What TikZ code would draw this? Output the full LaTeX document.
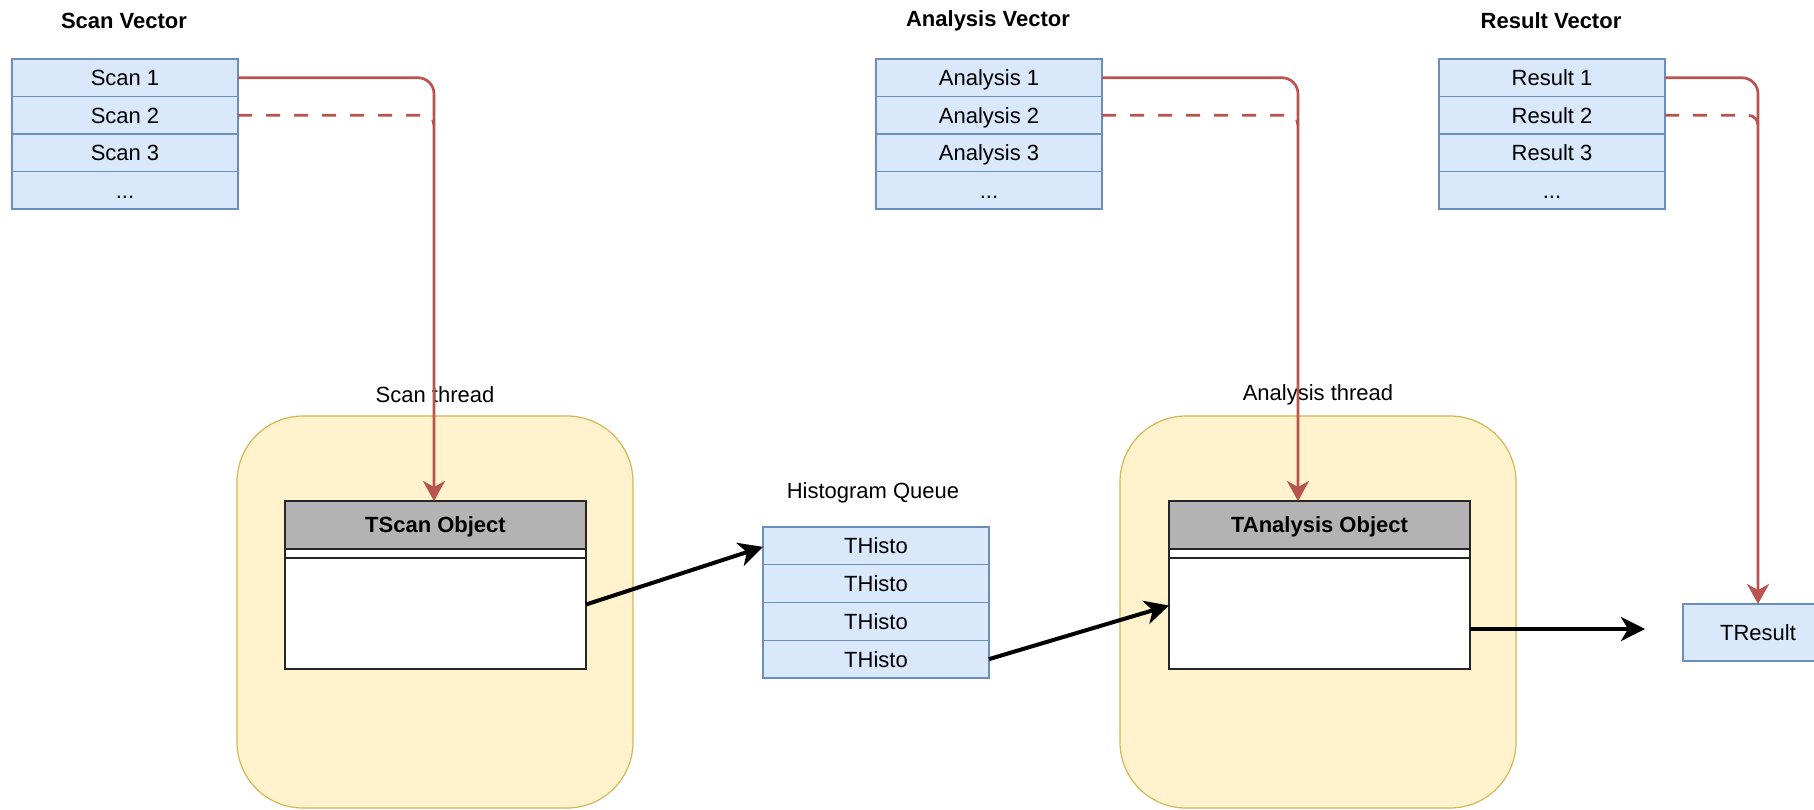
\documentclass[tikz,border=0pt]{standalone}
\usepackage{fontspec}
\setmainfont{Liberation Sans}
\usetikzlibrary{arrows.meta,calc}
\definecolor{cellfill}{HTML}{DAE8FC}
\definecolor{cellline}{HTML}{6C8EBF}
\definecolor{redline}{HTML}{B85450}
\definecolor{thfill}{HTML}{FFF2CC}
\definecolor{thline}{HTML}{D6B656}
\definecolor{hdrfill}{HTML}{B3B3B3}
\begin{document}
\begin{tikzpicture}[x=0.5pt,y=-0.5pt,
  font=\fontsize{11}{13}\selectfont,
  cell/.style={draw=cellline, fill=cellfill, line width=0.7pt, minimum width=113pt,
    minimum height=18.75pt, inner sep=0pt, outer sep=0pt, anchor=north west,
    text height=7.9pt, text depth=0pt},
  hcell/.style={cell, minimum height=18.875pt},
  title/.style={font=\fontsize{11}{13}\selectfont\bfseries},
  thread/.style={draw=thline, fill=thfill, line width=0.6pt, rounded corners=33pt,
    minimum width=198pt, minimum height=196pt, inner sep=0pt, outer sep=0pt, anchor=north west},
  objhdr/.style={draw=black!85, fill=hdrfill, line width=0.7pt, minimum width=150.5pt,
    minimum height=24pt, inner sep=0pt, outer sep=0pt, anchor=north west,
    text height=7.9pt, text depth=0pt, font=\fontsize{11}{13}\selectfont\bfseries},
  objband/.style={draw=black!85, fill=white, line width=0.7pt, minimum width=150.5pt,
    minimum height=4.5pt, inner sep=0pt, outer sep=0pt, anchor=north west},
  objbody/.style={draw=black!85, fill=white, line width=0.7pt, minimum width=150.5pt,
    minimum height=55.5pt, inner sep=0pt, outer sep=0pt, anchor=north west},
  redarrow/.style={draw=redline, line width=1.35pt, rounded corners=8pt,
    -{Stealth[length=10pt, width=11pt, inset=3pt]}},
  reddash/.style={draw=redline, line width=1.35pt, dash pattern=on 7pt off 7pt},
  blackarrow/.style={draw=black, line width=2pt,
    -{Stealth[length=12pt, width=12pt, inset=3.5pt]}}
]
\useasboundingbox (0,0) rectangle (1814,809);

% titles
\node[title] (tsv) at (124,21) {Scan Vector};
\node[title] (tav) at (988,21) {Analysis Vector};
\node[title] (trv) at (1551,21) {Result Vector};

% scan vector
\node[cell] (s1) at (12,59) {Scan 1};
\node[cell] (s2) at (12,96.5) {Scan 2};
\node[cell] (s3) at (12,134) {Scan 3};
\node[cell] (s4) at (12,171.5) {...};

% analysis vector
\node[cell] (a1) at (876,59) {Analysis 1};
\node[cell] (a2) at (876,96.5) {Analysis 2};
\node[cell] (a3) at (876,134) {Analysis 3};
\node[cell] (a4) at (876,171.5) {...};

% result vector
\node[cell] (r1) at (1439,59) {Result 1};
\node[cell] (r2) at (1439,96.5) {Result 2};
\node[cell] (r3) at (1439,134) {Result 3};
\node[cell] (r4) at (1439,171.5) {...};

% threads
\node[thread] (sth) at (237,416) {};
\node[thread] (ath) at (1120,416) {};
\node (sthl) at (435,395) {Scan thread};
\node (athl) at (1318,395) {Analysis thread};

% objects
\node[objhdr] (tsh) at (285,501) {TScan Object};
\node[objband] (tsm) at (285,549) {};
\node[objbody] (tsb) at (285,558) {};
\node[objhdr] (tah) at (1169,501) {TAnalysis Object};
\node[objband] (tam) at (1169,549) {};
\node[objbody] (tab) at (1169,558) {};

% histogram queue
\node (hql) at (873,493) {Histogram Queue};
\node[hcell] (h1) at (763,527) {THisto};
\node[hcell] (h2) at (763,564.75) {THisto};
\node[hcell] (h3) at (763,602.5) {THisto};
\node[hcell] (h4) at (763,640.25) {THisto};

% result
\node[cell, minimum width=75pt, minimum height=28.5pt, anchor=center] (tres) at (1758,632.5) {TResult};

% red connectors
\coordinate (sx) at (434,0);
\coordinate (ax) at (1298,0);
\coordinate (rx) at (1758,0);
\coordinate (out) at (1645,629);

\draw[reddash] (s2.east) -- ($(s2.east -| sx)+(-10,0)$) to[out=0,in=90] ($(s2.east -| sx)+(0,10)$);
\draw[reddash] (a2.east) -- ($(a2.east -| ax)+(-10,0)$) to[out=0,in=90] ($(a2.east -| ax)+(0,10)$);
\draw[reddash] (r2.east) -- ($(r2.east -| rx)+(-10,0)$) to[out=0,in=90] ($(r2.east -| rx)+(0,10)$);

\draw[redarrow] (s1.east) -| (tsh.north -| sx);
\draw[redarrow] (a1.east) -| (tah.north -| ax);
\draw[redarrow] (r1.east) -| (tres.north);

% black connectors
\draw[blackarrow] ([yshift=4.5pt]tsb.east) -- ([yshift=-0.5pt]h1.west);
\draw[blackarrow] (h4.east) -- ([yshift=4pt]tab.west);
\draw[blackarrow] (tab.east |- out) -- (out);
\end{tikzpicture}
\end{document}
